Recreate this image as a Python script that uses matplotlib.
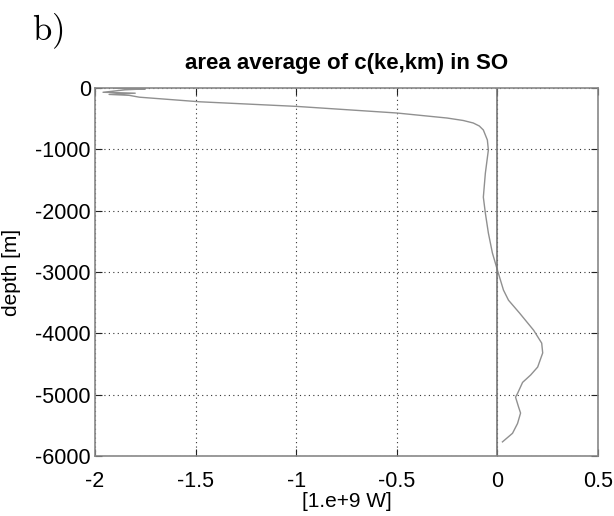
import matplotlib
matplotlib.use("Agg")
import matplotlib.pyplot as plt

conv = [-1.90, -1.75, -1.85, -1.96, -1.80, -1.93, -1.83, -1.78, -1.70, -1.48, -1.00,
        -0.50, -0.25, -0.17, -0.12, -0.09, -0.07, -0.05, -0.045, -0.06, -0.07, -0.06, -0.045,
        -0.025, 0.0, 0.03, 0.055, 0.11, 0.18, 0.22, 0.225, 0.20, 0.165, 0.125,
        0.10, 0.09, 0.105, 0.115, 0.10, 0.075, 0.025]
depth = [-5, -15, -30, -70, -85, -105, -120, -150, -170, -225, -300,
         -408, -490, -530, -571, -620, -685, -848, -1011, -1390, -1780, -2040, -2365,
         -2690, -2970, -3295, -3460, -3670, -3950, -4160, -4320, -4550, -4680, -4800,
         -4980, -5040, -5200, -5300, -5470, -5630, -5770]

xticks = [-2, -1.5, -1, -0.5, 0, 0.5]
xticklabels = ["-2", "-1.5", "-1", "-0.5", "0", "0.5"]
yticks = [0, -1000, -2000, -3000, -4000, -5000, -6000]
yticklabels = ["0", "-1000", "-2000", "-3000", "-4000", "-5000", "-6000"]

plt.rcParams['font.family'] = ['Liberation Sans', 'DejaVu Sans']

fig = plt.figure(figsize=(6.14, 5.16), dpi=100)
ax = fig.add_axes([0.1547, 0.1163, 0.8193, 0.7132])

ax.plot(conv, depth, color='#909090', lw=1.0)
ax.axvline(0, color='#777777', lw=1.2)

ax.set_xlim(-2, 0.5)
ax.set_ylim(-6000, 0)
ax.set_xticks(xticks)
ax.set_xticklabels(xticklabels)
ax.set_yticks(yticks)
ax.set_yticklabels(yticklabels)
ax.grid(True, linestyle=(0, (1, 3)), color='#333333', lw=0.8)
ax.tick_params(direction='in', length=5, labelsize=15.5, color='#222222',
               top=True, right=True)
ax.tick_params(axis='x', pad=11)
ax.tick_params(axis='y', pad=3)
for s in ax.spines.values():
    s.set_color('#888888')
    s.set_linewidth(1.2)

ax.set_title("area average of c(ke,km) in SO", fontsize=16, fontweight='bold', pad=14)
ax.set_ylabel("depth [m]", fontsize=15)
ax.yaxis.set_label_coords(-0.147, 0.5)
ax.set_xlabel("[1.e+9 W]", fontsize=15, labelpad=0)

fig.text(0.052, 0.978, r"$\mathrm{b)}$", fontsize=25, math_fontfamily='cm', va='top', ha='left')

fig.savefig("out.png", dpi=100)
